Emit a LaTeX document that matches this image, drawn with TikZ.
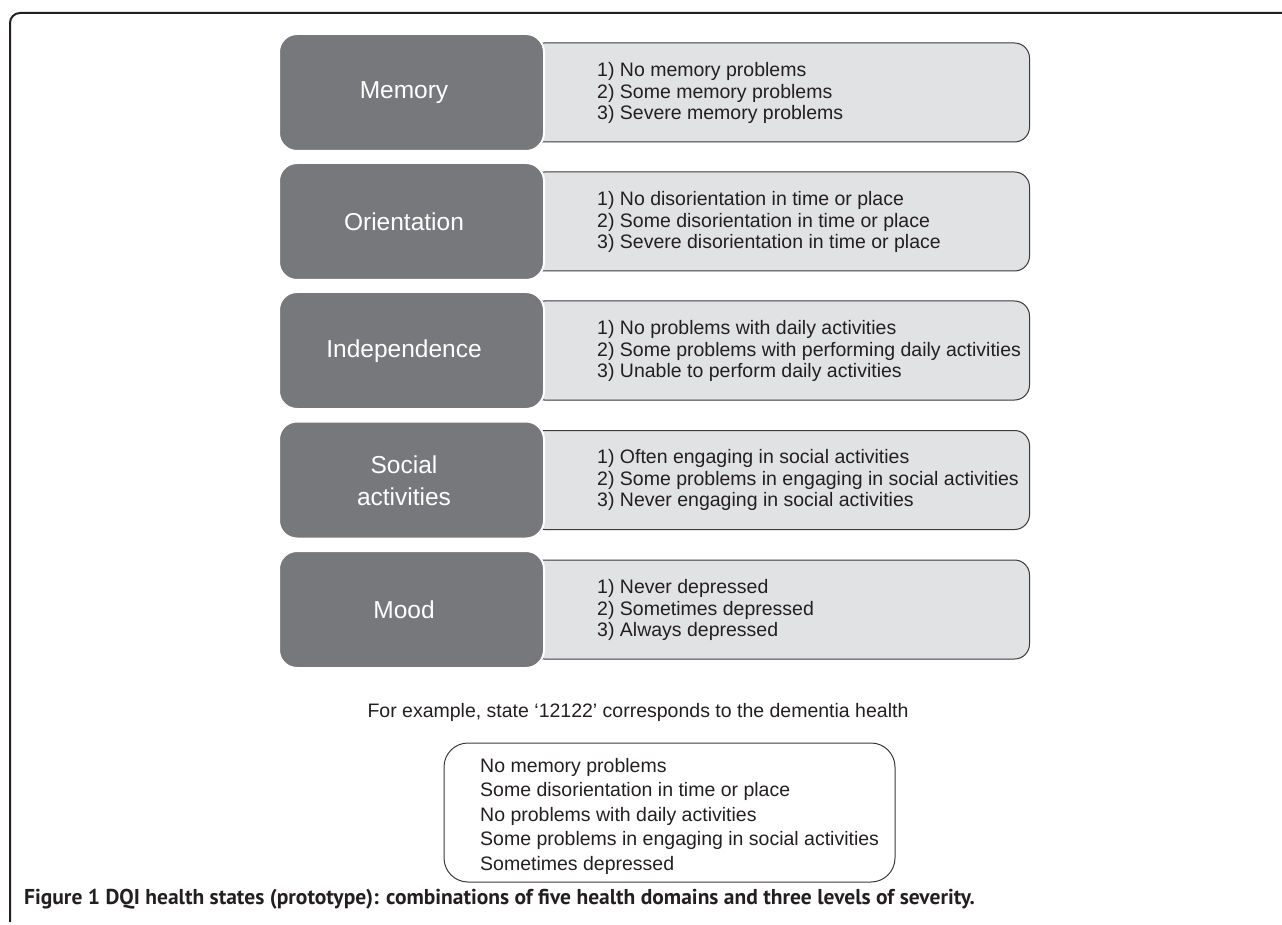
\documentclass[tikz,border=0pt]{standalone}
\usepackage{fontspec}
\setmainfont{Liberation Sans}
\newfontfamily\capfont{PT Sans}
\definecolor{domgray}{HTML}{77787C}
\definecolor{lvlgray}{HTML}{E1E2E4}
\definecolor{edgegray}{HTML}{3A3A3C}
\definecolor{txtgray}{HTML}{231F20}
\begin{document}
\begin{tikzpicture}[x=1pt,y=-1pt,
  domainbox/.style={fill=domgray, draw=white, line width=2pt, rounded corners=18pt, minimum width=265pt, minimum height=117pt, inner sep=0pt},
  domlabel/.style={text=white, font=\fontsize{24.5}{32}\selectfont, align=center, inner sep=0pt},
  levelbox/.style={fill=lvlgray, draw=edgegray, line width=1pt, rounded corners=15pt, minimum width=500pt, minimum height=99pt, inner sep=0pt, anchor=east},
  leveltext/.style={font=\fontsize{19.5}{21.5}\selectfont, align=left, anchor=west, inner sep=0pt, text=txtgray},
  summarybox/.style={draw=edgegray, line width=1pt, rounded corners=24pt, minimum width=451pt, minimum height=139pt, inner sep=0pt},
  summarytext/.style={font=\fontsize{19.5}{24.5}\selectfont, align=left, anchor=west, inner sep=0pt, text=txtgray},
  frameline/.style={draw=txtgray, line width=2pt, rounded corners=10pt},
  captext/.style={font=\capfont\bfseries\fontsize{21.5}{25}\selectfont, anchor=base west, inner sep=0pt, text=txtgray}
]
\useasboundingbox (0,0) rectangle (1282,925);
\draw[frameline] (1282,13) -- (10,13) -- (10,922);

% rows
\node[levelbox] (l1) at (1030,92.5) {};
\node[levelbox] (l2) at (1030,221.5) {};
\node[levelbox] (l3) at (1030,350.5) {};
\node[levelbox] (l4) at (1030,480) {};
\node[levelbox] (l5) at (1030,609.5) {};

\node[domainbox] (d1) at (411.5,92.5) {};
\node[domainbox] (d2) at (411.5,221.5) {};
\node[domainbox] (d3) at (411.5,350.5) {};
\node[domainbox] (d4) at (411.5,480) {};
\node[domainbox] (d5) at (411.5,609.5) {};

\node[domlabel] (n1) at (404,93) {Memory};
\node[domlabel] (n2) at (404,222) {Orientation};
\node[domlabel] (n3) at (404,351) {Independence};
\node[domlabel] (n4) at (404,481) {Social\\activities};
\node[domlabel] (n5) at (404,610) {Mood};

\node[leveltext] (t1) at (597,93) {1) No memory problems\\2) Some memory problems\\3) Severe memory problems};
\node[leveltext] (t2) at (597,222) {1) No disorientation in time or place\\2) Some disorientation in time or place\\3) Severe disorientation in time or place};
\node[leveltext] (t3) at (597,351) {1) No problems with daily activities\\2) Some problems with performing daily activities\\3) Unable to perform daily activities};
\node[leveltext] (t4) at (597,480) {1) Often engaging in social activities\\2) Some problems in engaging in social activities\\3) Never engaging in social activities};
\node[leveltext] (t5) at (597,610) {1) Never depressed\\2) Sometimes depressed\\3) Always depressed};

\node[font=\fontsize{19.5}{24}\selectfont, text=txtgray, inner sep=0pt] (ex) at (638,712) {For example, state `12122' corresponds to the dementia health};

\node[summarybox] (sb) at (669.5,812.5) {};
\node[summarytext] (st) at (480,816) {No memory problems\\Some disorientation in time or place\\No problems with daily activities\\Some problems in engaging in social activities\\Sometimes depressed};

\node[captext] (cap) at (24,904) {Figure 1 DQI health states (prototype): combinations of five health domains and three levels of severity.};
\end{tikzpicture}
\end{document}
